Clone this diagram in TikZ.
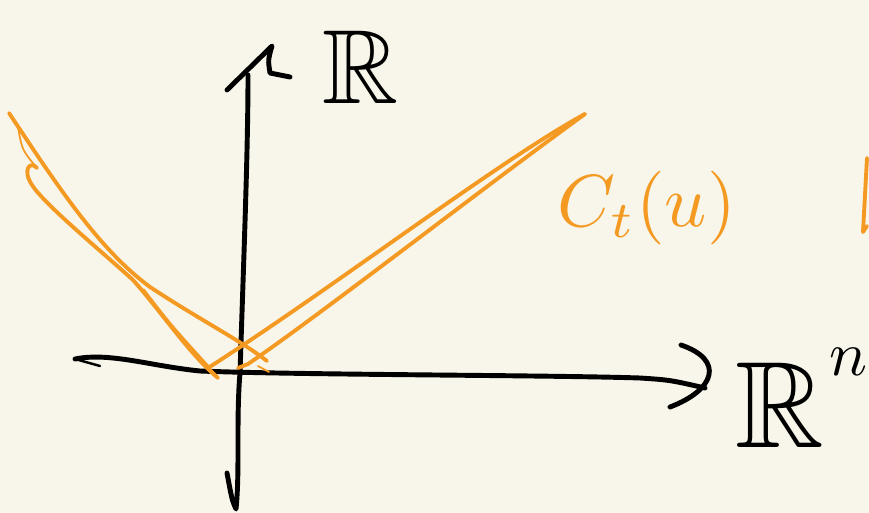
\documentclass[tikz,border=0pt]{standalone}
\usepackage{amssymb}
\usetikzlibrary{positioning}
\definecolor{paper}{HTML}{F8F6EA}
\definecolor{marker}{HTML}{F49A22}
\begin{document}
\begin{tikzpicture}[x=0.02cm, y=-0.02cm,
    pen/.style={line width=2.8pt, line cap=round, line join=round},
    hl/.style={line width=2.2pt, draw=marker, line cap=round, line join=round},
    thinhl/.style={hl, line width=1pt}]
  % paper
  \fill[paper] (0,0) rectangle (869,513);
  \useasboundingbox (0,0) rectangle (869,513);

  % horizontal axis R^n
  \draw[pen, line width=1.4pt] (100,366) -- (75,359);
  \draw[pen] (75,359) .. controls (110,352) and (150,366) .. (200,371)
    .. controls (300,375) and (550,375) .. (640,378)
    .. controls (670,380) .. (705,388);
  \draw[pen] (681,345) .. controls (725,360) and (715,390) .. (670,407);

  % vertical axis R
  \draw[pen] (227,473) .. controls (232,500) .. (236,509)
    .. controls (240,470) and (236,420) .. (240,373)
    .. controls (244,250) and (248,150) .. (248,75);
  \draw[pen] (227,90) -- (272,46) .. controls (268,60) .. (270,73) -- (290,77);

  % axis labels
  \node[scale=6, inner sep=0pt] (labR) at (361,67) {$\mathbb{R}$};
  \node[scale=7, inner sep=0pt] (labRn) at (780,405) {$\mathbb{R}$};
  \node[scale=3.6, inner sep=0pt, anchor=west] (labn) at (828,362) {$n$};

  % orange curves
  \draw[hl] (9,113) .. controls (60,190) and (100,250) .. (150,287)
    .. controls (200,320) and (240,340) .. (267,361);
  \draw[thinhl] (18,127) .. controls (22,150) .. (37,168);
  \draw[hl] (37,168) .. controls (30,160) and (22,170) .. (32,185)
    .. controls (45,205) and (100,250) .. (133,280)
    .. controls (160,310) and (190,355) .. (218,378) -- (208,368)
    .. controls (330,290) and (500,160) .. (585,114);
  \draw[hl] (143,290) .. controls (170,325) .. (208,367);
  \draw[hl] (238,368) -- (248,364) .. controls (320,315) and (480,190) .. (585,114);
  \draw[thinhl] (258,366) -- (269,372);
  \draw[hl] (867,158) -- (863,232) -- (867,226);

  % curve label
  \node[scale=4.2, inner sep=0pt, text=marker, anchor=west] (labC) at (556,208) {$C_t(u)$};
\end{tikzpicture}
\end{document}
